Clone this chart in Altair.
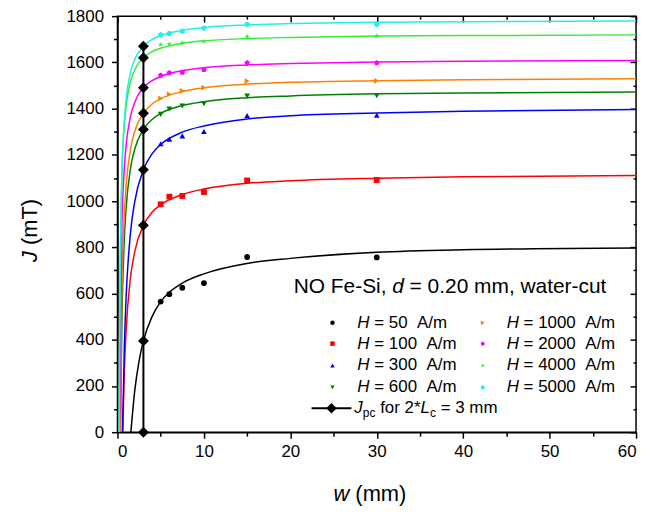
import altair as alt
import pandas as pd

# ---------------- data ----------------
H_values = [50, 100, 300, 600, 1000, 2000, 4000, 5000]
series_colors = ["#000000", "#ff0000", "#0000ff", "#008000",
                 "#ff8000", "#ff00ff", "#33ee33", "#22eeee"]

meas_w = [5, 6, 7.5, 10, 15, 30]
meas_J_50 = [565, 597, 625, 645, 758, 756]
meas_J_100 = [986, 1019, 1022, 1039, 1089, 1091]
meas_J_300 = [1248, 1268, 1282, 1301, 1370, 1371]
meas_J_600 = [1375, 1398, 1411, 1421, 1454, 1456]
meas_J_1000 = [1444, 1462, 1477, 1491, 1519, 1520]
meas_J_2000 = [1544, 1554, 1557, 1568, 1598, 1598]
meas_J_4000 = [1677, 1679, 1684, 1691, 1711, 1714]
meas_J_5000 = [1719, 1725, 1735, 1748, 1764, 1765]

fit_w_50 = [1.55, 2, 2.5, 3, 4, 5, 6, 7.5, 10, 15, 20, 30, 40, 60]
fit_J_50 = [0, 181, 309, 395, 500, 565, 605, 645, 685, 730, 752, 778, 789, 797]
fit_w_100 = [0.61, 0.8, 1, 1.5, 2, 3, 4, 5, 7.5, 10, 15, 20, 30, 40, 60]
fit_J_100 = [0, 270, 440, 667, 781, 895, 952, 984, 1028, 1052, 1077, 1088, 1099, 1105, 1111]
fit_w_300 = [0.58, 0.8, 1, 1.5, 2, 3, 4, 5, 7.5, 10, 15, 20, 30, 40, 60]
fit_J_300 = [0, 380, 586, 861, 998, 1135, 1204, 1245, 1298, 1325, 1355, 1369, 1381, 1389, 1396]
fit_w_600 = [0.35, 0.5, 0.75, 1, 1.5, 2, 3, 4, 5, 7.5, 10, 15, 20, 30, 40, 60]
fit_J_600 = [0, 457, 798, 969, 1140, 1225, 1310, 1353, 1379, 1413, 1430, 1447, 1455, 1464, 1468, 1472]
fit_w_1000 = [0.31, 0.5, 0.75, 1, 1.5, 2, 3, 4, 5, 7.5, 10, 15, 20, 30, 40, 60]
fit_J_1000 = [0, 597, 910, 1067, 1224, 1302, 1380, 1420, 1443, 1474, 1490, 1506, 1514, 1521, 1525, 1529]
fit_w_2000 = [0.23, 0.5, 0.75, 1, 1.5, 2, 3, 4, 5, 7.5, 10, 15, 20, 30, 40, 60]
fit_J_2000 = [0, 868, 1117, 1241, 1365, 1428, 1490, 1521, 1539, 1564, 1577, 1589, 1595, 1602, 1605, 1608]
fit_w_4000 = [0.18, 0.25, 0.5, 0.75, 1, 1.5, 2, 3, 4, 5, 7.5, 10, 15, 20, 30, 40, 60]
fit_J_4000 = [0, 472, 1098, 1307, 1411, 1515, 1568, 1620, 1646, 1661, 1682, 1693, 1703, 1708, 1714, 1716, 1719]
fit_w_5000 = [0.19, 0.25, 0.5, 0.75, 1, 1.5, 2, 3, 4, 5, 7.5, 10, 15, 20, 30, 40, 60]
fit_J_5000 = [0, 409, 1097, 1326, 1441, 1556, 1613, 1670, 1699, 1716, 1739, 1751, 1762, 1768, 1774, 1776, 1779]

jpc_w = 3
jpc_J = [0, 395, 895, 1135, 1310, 1380, 1490, 1620, 1670]

x_ticks = [0, 10, 20, 30, 40, 50, 60]
x_minor = [5, 15, 25, 35, 45, 55]
y_ticks = [0, 200, 400, 600, 800, 1000, 1200, 1400, 1600, 1800]
y_minor = [100, 300, 500, 700, 900, 1100, 1300, 1500, 1700]

# ---------------- assemble tables ----------------
meas_J = [meas_J_50, meas_J_100, meas_J_300, meas_J_600,
          meas_J_1000, meas_J_2000, meas_J_4000, meas_J_5000]
fit_w = [fit_w_50, fit_w_100, fit_w_300, fit_w_600,
         fit_w_1000, fit_w_2000, fit_w_4000, fit_w_5000]
fit_J = [fit_J_50, fit_J_100, fit_J_300, fit_J_600,
         fit_J_1000, fit_J_2000, fit_J_4000, fit_J_5000]

labels = [f"H = {h} A/m" for h in H_values]

PENTAGON = "M0,-1L0.951,-0.309L0.588,0.809L-0.588,0.809L-0.951,-0.309Z"
STAR = ("M0,-1L0.235,-0.324L0.951,-0.309L0.38,0.124L0.588,0.809L0,0.4"
        "L-0.588,0.809L-0.38,0.124L-0.951,-0.309L-0.235,-0.324Z")
HEXAGON = "M0,-1L0.866,-0.5L0.866,0.5L0,1L-0.866,0.5L-0.866,-0.5Z"
series_shapes = ["circle", "square", "triangle-up", "triangle-down",
                 "triangle-right", PENTAGON, STAR, HEXAGON]

rows = []
for lab, ws, js in zip(labels, fit_w, fit_J):
    for w, j in zip(ws, js):
        rows.append({"series": lab, "w": w, "J": j})
fit_df = pd.DataFrame(rows)

rows = []
for lab, js in zip(labels, meas_J):
    for w, j in zip(meas_w, js):
        rows.append({"series": lab, "w": w, "J": j})
meas_df = pd.DataFrame(rows)

jpc_df = pd.DataFrame({"w": [jpc_w] * len(jpc_J), "J": jpc_J})

W, H = 521, 418
TOP = 7          # top padding
DY = -2          # shift for overlay texts relative to earlier layout
FONT = "Liberation Sans"
xs = alt.Scale(domain=[0, 60], nice=False, zero=False)
ys = alt.Scale(domain=[0, 1800], nice=False, zero=False)
color_scale = alt.Scale(domain=labels, range=series_colors)
shape_scale = alt.Scale(domain=labels, range=series_shapes)

main_x_axis = alt.Axis(values=x_ticks, title=None, tickSize=6, labelPadding=5,
                       labelFontSize=17, format="d", orient="bottom")
main_y_axis = alt.Axis(values=y_ticks, title=None, tickSize=6, labelPadding=8,
                       labelFontSize=17, format="d", orient="left")

curves = alt.Chart(fit_df).mark_line(strokeWidth=1.5, interpolate="monotone", clip=True).encode(
    x=alt.X("w:Q", scale=xs, axis=main_x_axis),
    y=alt.Y("J:Q", scale=ys, axis=main_y_axis),
    color=alt.Color("series:N", scale=color_scale, legend=None),
)

points = alt.Chart(meas_df).mark_point(filled=True, size=34, opacity=1).encode(
    x=alt.X("w:Q", scale=xs, axis=None),
    y=alt.Y("J:Q", scale=ys, axis=None),
    color=alt.Color("series:N", scale=color_scale, legend=None),
    shape=alt.Shape("series:N", scale=shape_scale, legend=None),
)

jpc_line = alt.Chart(jpc_df).mark_line(color="black", strokeWidth=2).encode(
    x=alt.X("w:Q", scale=xs, axis=None),
    y=alt.Y("J:Q", scale=ys, axis=None),
)
jpc_pts = alt.Chart(jpc_df).mark_point(shape="diamond", filled=True, size=120,
                                        color="black", opacity=1).encode(
    x=alt.X("w:Q", scale=xs, axis=None),
    y=alt.Y("J:Q", scale=ys, axis=None),
)

dummy = pd.DataFrame({"w": [0], "J": [0]})


def x_axis_layer(values, size, offset=0):
    return alt.Chart(dummy).mark_point(opacity=0).encode(
        x=alt.X("w:Q", scale=xs, axis=alt.Axis(values=values, labels=False, domain=False,
                                                  tickSize=size, title=None, orient="bottom",
                                                  offset=offset)),
        y=alt.Y("J:Q", scale=ys, axis=None),
    )


def y_axis_layer(values, size, offset=0):
    return alt.Chart(dummy).mark_point(opacity=0).encode(
        x=alt.X("w:Q", scale=xs, axis=None),
        y=alt.Y("J:Q", scale=ys, axis=alt.Axis(values=values, labels=False, domain=False,
                                                  tickSize=size, title=None, orient="left",
                                                  offset=offset)),
    )


axis_layers = [
    x_axis_layer(x_minor, 4),
    x_axis_layer(x_ticks, 6, -H),
    x_axis_layer(x_minor, 3, -H),
    y_axis_layer(y_minor, 4),
    y_axis_layer(y_ticks, 6, -W),
    y_axis_layer(y_minor, 3, -W),
]

one = pd.DataFrame({"a": [0]})


def txt(text, x, y, size=17, italic=False, angle=0, align="left"):
    kw = dict(text=text, font=FONT, fontSize=size, color="black", align=align,
              baseline="middle", angle=angle)
    if italic:
        kw["fontStyle"] = "italic"
    return alt.Chart(one).mark_text(**kw).encode(x=alt.value(x), y=alt.value(y + DY))


def sym(shape, color, x, y, size=20):
    return alt.Chart(one).mark_point(shape=shape, filled=True, size=size, color=color,
                                     opacity=1).encode(x=alt.value(x), y=alt.value(y + DY))


deco = []
# annotation
deco.append(txt("NO Fe-Si,", 177, 274, 21))
deco.append(txt("d", 276, 274, 21, italic=True))
deco.append(txt("= 0.20 mm, water-cut", 293.5, 274, 21))

# legend
col_sym_x = [216, 367]
col_txt_x = [241, 391]
row_y = [310, 331, 353, 375]
for i, (h, c, s) in enumerate(zip(H_values, series_colors, series_shapes)):
    col, row = i // 4, i % 4
    deco.append(sym(s, c, col_sym_x[col], row_y[row]))
    deco.append(txt("H", col_txt_x[col], row_y[row], 17, italic=True))
    deco.append(txt(f"= {h}\u00a0\u00a0A/m", col_txt_x[col] + 17, row_y[row], 17))

ly = 396
deco.append(alt.Chart(one).mark_rule(color="black", strokeWidth=2).encode(
    x=alt.value(195), x2=alt.value(235), y=alt.value(ly + DY)))
deco.append(sym("diamond", "black", 215, ly, size=110))
deco.append(txt("J", 238, ly, 17, italic=True))
deco.append(txt("pc", 246.5, ly + 5, 12))
deco.append(txt("for 2*", 263.9, ly, 17))
deco.append(txt("L", 304.5, ly, 17, italic=True))
deco.append(txt("c", 314, ly + 5, 12))
deco.append(txt("= 3 mm", 324.7, ly, 17))

# axis titles
deco.append(txt("J", -88, 249, 22, italic=True, angle=270))
deco.append(txt("(mT)", -88, 232, 22, angle=270))
deco.append(txt("w", 217, 482, 22, italic=True))
deco.append(txt("(mm)", 239, 482, 22))

chart = alt.layer(
    *axis_layers, curves, points, jpc_line, jpc_pts, *deco
).resolve_axis(
    x="independent", y="independent"
).properties(
    width=W, height=H,
    autosize=alt.AutoSizeParams(type="none"),
    padding={"left": 110, "top": TOP, "right": 8, "bottom": 80},
).configure_view(
    stroke="black", strokeWidth=1.5
).configure_axis(
    grid=False, domainColor="black", domainWidth=1.5, tickColor="black", tickWidth=1.5,
    labelColor="black", labelFont=FONT
)

chart.save("out.html", embed_options={"renderer": "svg", "actions": False})
